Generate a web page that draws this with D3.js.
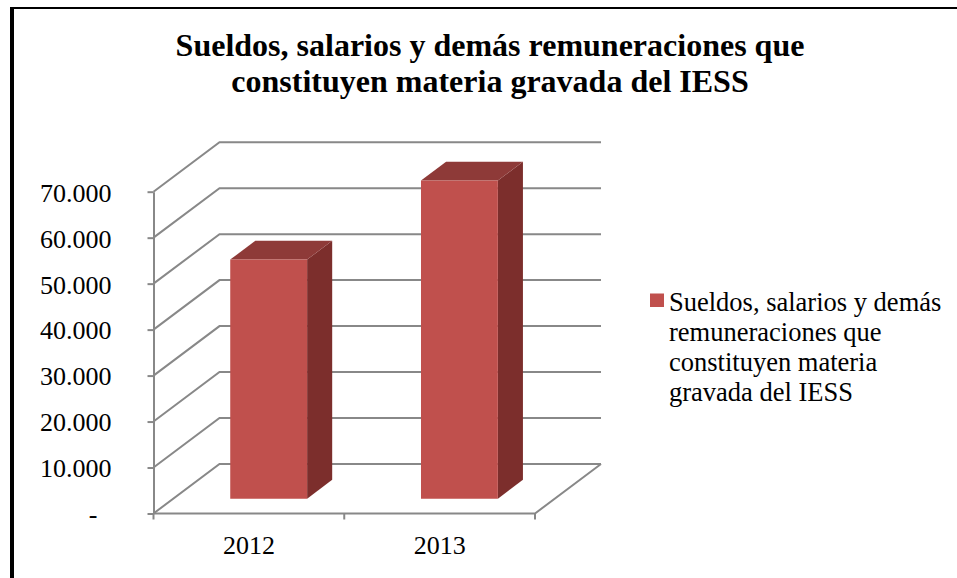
<!DOCTYPE html>
<html>
<head>
<meta charset="utf-8">
<script src="https://cdn.jsdelivr.net/npm/d3@7"></script>
<style>
  body { margin: 0; background: #fff; }
</style>
</head>
<body>
<div id="graph"></div>
<script>
"use strict";

// data
const categories = ["2012", "2013"];
const values = [52000, 69200];
const yTicks = [0, 10000, 20000, 30000, 40000, 50000, 60000, 70000];
const titleLines = ["Sueldos, salarios y demás remuneraciones que", "constituyen materia gravada del IESS"];
const legendLines = ["Sueldos, salarios y demás", "remuneraciones que", "constituyen materia", "gravada del IESS"];

let width = 957,
    height = 578;

const FONT = "'Liberation Serif', 'Tinos', 'DejaVu Serif', 'Noto Serif', serif";

// 3d box: depth offset of the back wall
const DX = 66, DY = -49.5;
const d0 = 0.3, d1 = 0.68;   // bar front / back depth
const gridColor = "#888888";

let svg = d3.select("#graph")
    .append("svg")
    .attr("width", width)
    .attr("height", height)
    .style("font-family", FONT);

// page frame
svg.append("line").attr("x1", 12).attr("x2", 12).attr("y1", 7).attr("y2", height)
    .attr("stroke", "#000").attr("stroke-width", 4);
svg.append("line").attr("x1", 10).attr("x2", width).attr("y1", 8).attr("y2", 8)
    .attr("stroke", "#000").attr("stroke-width", 2);

let x = d3.scaleBand().domain(categories).range([153.5, 535]).padding(0);
let y = d3.scaleLinear().domain([0, 70000]).range([513.5, 191.7]);

function proj(xv, v, d) {
    return [xv + d * DX, y(v) + d * DY];
}

let line = d3.line();

// gridlines on side + back wall
svg.append("g").selectAll("path")
    .data(yTicks)
    .enter()
    .append("path")
    .attr("fill", "none")
    .attr("stroke", gridColor)
    .attr("stroke-width", 2)
    .attr("d", t => line([proj(x.range()[0], t, 0), proj(x.range()[0], t, 1), proj(x.range()[1], t, 1)]));

// floor front + right edge
svg.append("path")
    .attr("fill", "none")
    .attr("stroke", gridColor)
    .attr("stroke-width", 2)
    .attr("d", line([proj(x.range()[0], 0, 0), proj(x.range()[1], 0, 0), proj(x.range()[1], 0, 1)]));

// value axis
let fmt = d3.formatLocale({ decimal: ",", thousands: ".", grouping: [3], currency: ["$", ""] }).format(",.0f");
let yAxis = svg.append("g")
    .attr("transform", "translate(" + x.range()[0] + ",0)")
    .call(d3.axisLeft(y).tickValues(yTicks).tickSize(6).tickSizeOuter(0).tickPadding(36)
        .tickFormat(d => d === 0 ? "-" : fmt(d)));
yAxis.attr("font-family", null).attr("font-size", null);
yAxis.select(".domain").attr("stroke", gridColor).attr("stroke-width", 2);
yAxis.selectAll(".tick line").attr("stroke", gridColor).attr("stroke-width", 2);
yAxis.selectAll(".tick text")
    .style("font-family", FONT)
    .style("font-size", "26px")
    .attr("fill", "#000")
    .attr("dy", "0.36em")
    .attr("dx", d => d === 0 ? -14 : 0);

// category axis
let xAxis = svg.append("g")
    .attr("transform", "translate(0," + y(0) + ")")
    .call(d3.axisBottom(x).tickSize(0).tickPadding(22));
xAxis.attr("font-family", null).attr("font-size", null);
xAxis.select(".domain").remove();
xAxis.selectAll(".tick text")
    .style("font-family", FONT)
    .style("font-size", "26px")
    .attr("fill", "#000");

let edges = categories.map(c => x(c)).concat([x.range()[1]]);
svg.append("g").selectAll("line")
    .data(edges)
    .enter()
    .append("line")
    .attr("x1", d => d).attr("x2", d => d)
    .attr("y1", y(0)).attr("y2", y(0) + 6)
    .attr("stroke", gridColor).attr("stroke-width", 2);

// 3d bars
let barW = x.bandwidth() * 0.403;
let bars = svg.append("g").selectAll("g")
    .data(categories.map((c, i) => ({ cat: c, value: values[i] })))
    .enter()
    .append("g");

function faces(d) {
    let x0 = x(d.cat) + x.bandwidth() / 2 - barW / 2,
        x1 = x0 + barW;
    return {
        front: [proj(x0, 0, d0), proj(x1, 0, d0), proj(x1, d.value, d0), proj(x0, d.value, d0)],
        side: [proj(x1, 0, d0), proj(x1, 0, d1), proj(x1, d.value, d1), proj(x1, d.value, d0)],
        top: [proj(x0, d.value, d0), proj(x1, d.value, d0), proj(x1, d.value, d1), proj(x0, d.value, d1)]
    };
}

bars.append("path").attr("fill", "#7C2E2C").attr("d", d => line(faces(d).side) + "Z");
bars.append("path").attr("fill", "#8E3A38").attr("d", d => line(faces(d).top) + "Z");
bars.append("path").attr("fill", "#C0504D").attr("d", d => line(faces(d).front) + "Z");

// title
svg.append("g").selectAll("text")
    .data(titleLines)
    .enter()
    .append("text")
    .attr("x", 490)
    .attr("y", (d, i) => 56 + i * 36)
    .attr("text-anchor", "middle")
    .style("font-family", FONT)
    .style("font-size", "32px")
    .style("font-weight", "bold")
    .text(d => d);

// legend
svg.append("rect")
    .attr("x", 650).attr("y", 293.5)
    .attr("width", 14).attr("height", 13.5)
    .attr("fill", "#C0504D");
svg.append("g").selectAll("text")
    .data(legendLines)
    .enter()
    .append("text")
    .attr("x", 669)
    .attr("y", (d, i) => 311 + i * 30)
    .style("font-family", FONT)
    .style("font-size", "26.5px")
    .text(d => d);
</script>
</body>
</html>
